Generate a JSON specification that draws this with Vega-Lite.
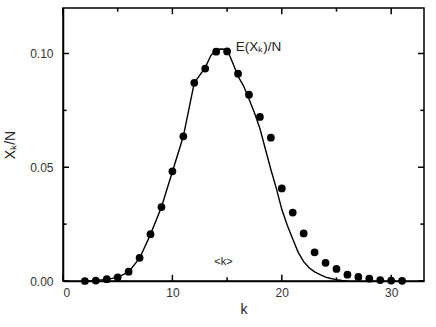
{
  "$schema": "https://vega.github.io/schema/vega-lite/v6.json",
  "autosize": "none",
  "width": 361,
  "height": 273,
  "padding": {"left": 63, "top": 8, "right": 12, "bottom": 46},
  "background": "white",
  "config": {
    "font": "Liberation Sans",
    "view": {"stroke": "black", "strokeWidth": 1.5},
    "axis": {
      "domainColor": "black",
      "domainWidth": 1.5,
      "ticks": false,
      "grid": false,
      "labelFont": "Liberation Sans",
      "labelFontSize": 12,
      "labelColor": "#333",
      "titleFont": "Liberation Sans",
      "titleFontSize": 14,
      "titleFontWeight": "normal",
      "titleColor": "#222"
    }
  },
  "datasets": {
    "obs": [
      {"k": 2, "v": 0.0000}, {"k": 3, "v": 0.0002}, {"k": 4, "v": 0.0008},
      {"k": 5, "v": 0.0016}, {"k": 6, "v": 0.0041}, {"k": 7, "v": 0.0102},
      {"k": 8, "v": 0.0206}, {"k": 9, "v": 0.0325}, {"k": 10, "v": 0.0482},
      {"k": 11, "v": 0.0636}, {"k": 12, "v": 0.0871}, {"k": 13, "v": 0.0934},
      {"k": 14, "v": 0.1008}, {"k": 15, "v": 0.1009}, {"k": 16, "v": 0.0911},
      {"k": 17, "v": 0.0819}, {"k": 18, "v": 0.0721}, {"k": 19, "v": 0.0630},
      {"k": 20, "v": 0.0407}, {"k": 21, "v": 0.0301}, {"k": 22, "v": 0.0209},
      {"k": 23, "v": 0.0126}, {"k": 24, "v": 0.0080}, {"k": 25, "v": 0.0053},
      {"k": 26, "v": 0.0028}, {"k": 27, "v": 0.0018}, {"k": 28, "v": 0.0010},
      {"k": 29, "v": 0.0004}, {"k": 30, "v": 0.0002}, {"k": 31, "v": 0.0001}
    ],
    "curve": [
      {"k": 2, "v": 0.0000}, {"k": 3, "v": 0.0002}, {"k": 4, "v": 0.0007},
      {"k": 5, "v": 0.0016}, {"k": 6, "v": 0.0040}, {"k": 7, "v": 0.0100},
      {"k": 8, "v": 0.0205}, {"k": 9, "v": 0.0325}, {"k": 10, "v": 0.0480},
      {"k": 11, "v": 0.0636}, {"k": 12, "v": 0.0871}, {"k": 13, "v": 0.0938},
      {"k": 13.5, "v": 0.0990}, {"k": 14, "v": 0.1018}, {"k": 14.5, "v": 0.1020},
      {"k": 15, "v": 0.1018}, {"k": 15.5, "v": 0.0960}, {"k": 16, "v": 0.0900},
      {"k": 16.5, "v": 0.0858}, {"k": 17, "v": 0.0800}, {"k": 17.5, "v": 0.0740},
      {"k": 18, "v": 0.0670}, {"k": 18.5, "v": 0.0580}, {"k": 19, "v": 0.0490},
      {"k": 19.5, "v": 0.0407}, {"k": 20, "v": 0.0315}, {"k": 20.5, "v": 0.0245},
      {"k": 21, "v": 0.0185}, {"k": 21.5, "v": 0.0126}, {"k": 22, "v": 0.0085},
      {"k": 22.5, "v": 0.0058}, {"k": 23, "v": 0.0040}, {"k": 23.5, "v": 0.0028},
      {"k": 24, "v": 0.0017}, {"k": 24.5, "v": 0.0011}, {"k": 25, "v": 0.0006},
      {"k": 25.5, "v": 0.0002}, {"k": 26, "v": 0.0000}
    ],
    "xmajor": [{"k": 0}, {"k": 10}, {"k": 20}, {"k": 30}],
    "xminor": [{"k": 5}, {"k": 15}, {"k": 25}],
    "ymajor": [{"v": 0}, {"v": 0.05}, {"v": 0.1}],
    "yminor": [{"v": 0.025}, {"v": 0.075}]
  },
  "layer": [
    {
      "data": {"name": "obs"},
      "mark": {"type": "circle", "size": 60, "color": "black", "opacity": 1},
      "encoding": {
        "x": {
          "field": "k", "type": "quantitative",
          "scale": {"domain": [0, 33], "nice": false, "zero": false},
          "axis": {
            "orient": "bottom", "title": "k",
            "values": [0, 10, 20, 30],
            "labelPadding": 6, "titlePadding": 4
          }
        },
        "y": {
          "field": "v", "type": "quantitative",
          "scale": {"domain": [0, 0.12], "nice": false},
          "axis": {
            "orient": "left", "title": "Xₖ/N",
            "values": [0, 0.05, 0.1],
            "format": ".2f",
            "labelPadding": 10, "titlePadding": 12
          }
        }
      }
    },
    {
      "data": {"name": "curve"},
      "mark": {"type": "line", "color": "black", "strokeWidth": 1.4},
      "encoding": {
        "x": {"field": "k", "type": "quantitative"},
        "y": {"field": "v", "type": "quantitative"}
      }
    },
    {
      "data": {"name": "xmajor"},
      "layer": [
        {
          "mark": {"type": "rule", "color": "black", "strokeWidth": 1.5},
          "encoding": {"x": {"field": "k", "type": "quantitative"}, "y": {"datum": 0, "type": "quantitative"}, "y2": {"datum": 0.0027}}
        },
        {
          "mark": {"type": "rule", "color": "black", "strokeWidth": 1.5},
          "encoding": {"x": {"field": "k", "type": "quantitative"}, "y": {"datum": 0.12, "type": "quantitative"}, "y2": {"datum": 0.1173}}
        }
      ]
    },
    {
      "data": {"name": "xminor"},
      "layer": [
        {
          "mark": {"type": "rule", "color": "black", "strokeWidth": 1.5},
          "encoding": {"x": {"field": "k", "type": "quantitative"}, "y": {"datum": 0, "type": "quantitative"}, "y2": {"datum": 0.0016}}
        },
        {
          "mark": {"type": "rule", "color": "black", "strokeWidth": 1.5},
          "encoding": {"x": {"field": "k", "type": "quantitative"}, "y": {"datum": 0.12, "type": "quantitative"}, "y2": {"datum": 0.1184}}
        }
      ]
    },
    {
      "data": {"name": "ymajor"},
      "layer": [
        {
          "mark": {"type": "rule", "color": "black", "strokeWidth": 1.5},
          "encoding": {"y": {"field": "v", "type": "quantitative"}, "x": {"datum": 0, "type": "quantitative"}, "x2": {"datum": 0.55}}
        },
        {
          "mark": {"type": "rule", "color": "black", "strokeWidth": 1.5},
          "encoding": {"y": {"field": "v", "type": "quantitative"}, "x": {"datum": 33, "type": "quantitative"}, "x2": {"datum": 32.45}}
        }
      ]
    },
    {
      "data": {"name": "yminor"},
      "layer": [
        {
          "mark": {"type": "rule", "color": "black", "strokeWidth": 1.5},
          "encoding": {"y": {"field": "v", "type": "quantitative"}, "x": {"datum": 0, "type": "quantitative"}, "x2": {"datum": 0.33}}
        },
        {
          "mark": {"type": "rule", "color": "black", "strokeWidth": 1.5},
          "encoding": {"y": {"field": "v", "type": "quantitative"}, "x": {"datum": 33, "type": "quantitative"}, "x2": {"datum": 32.67}}
        }
      ]
    },
    {
      "data": {"values": [{"k": 15.8, "v": 0.1028, "text": "E(Xₖ)/N"}]},
      "mark": {"type": "text", "baseline": "middle", "align": "left", "fontSize": 13.5, "font": "Liberation Sans", "color": "#222"},
      "encoding": {
        "x": {"field": "k", "type": "quantitative"},
        "y": {"field": "v", "type": "quantitative"},
        "text": {"field": "text"}
      }
    },
    {
      "data": {"values": [{"k": 14.67, "v": 0.0083, "text": "<k>"}]},
      "mark": {"type": "text", "baseline": "middle", "align": "center", "fontSize": 11, "font": "Liberation Sans", "color": "#222"},
      "encoding": {
        "x": {"field": "k", "type": "quantitative"},
        "y": {"field": "v", "type": "quantitative"},
        "text": {"field": "text"}
      }
    }
  ]
}
